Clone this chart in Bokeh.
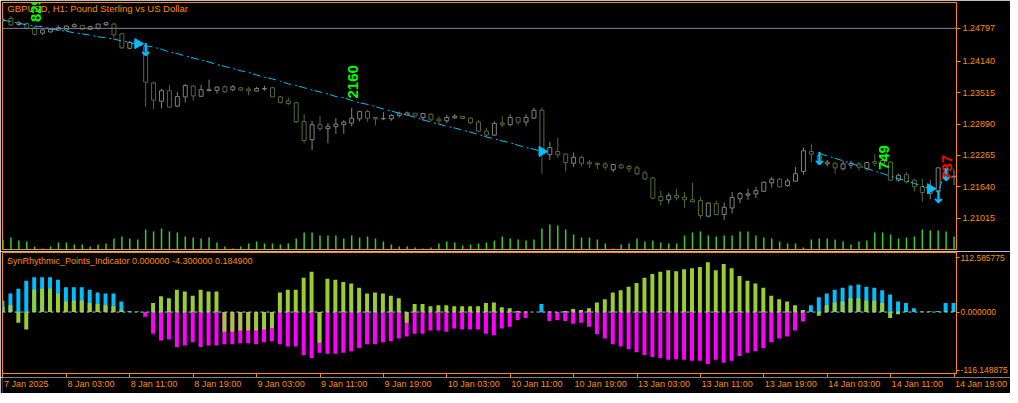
import math
from bokeh.plotting import figure
from bokeh.layouts import column
from bokeh.models import (Range1d, FixedTicker, NumeralTickFormatter, Span, Label,
                          ColumnDataSource, CustomJSTickFormatter)
from bokeh.core.properties import value
from bokeh.embed import file_html
from bokeh.resources import INLINE

NaN = float("nan")

# ---------------- data ----------------
bars = list(range(121))

open_ = [1.24951, 1.24994, 1.24873, 1.24896, 1.24804, 1.24701, 1.24726, 1.24765, 1.24765, 1.24830,
         1.24857, 1.24779, 1.24798, 1.24869, 1.24882, 1.24687, 1.24400, 1.24505, 1.24433, 1.23710,
         1.23345, 1.23554, 1.23248, 1.23431, 1.23646, 1.23443, 1.23554, 1.23560, 1.23632, 1.23574,
         1.23613, 1.23587, 1.23548, 1.23587, 1.23613, 1.23431, 1.23353, 1.23314, 1.22943, 1.22578,
         1.22877, 1.22798, 1.22837, 1.22877, 1.22910, 1.22994, 1.23138, 1.23021, 1.22994, 1.22994,
         1.23060, 1.23072, 1.23105, 1.23021, 1.23086, 1.22988, 1.22955, 1.23013, 1.23041, 1.23007,
         1.22929, 1.22748, 1.22670, 1.22910, 1.22877, 1.23021, 1.22929, 1.23007, 1.23164, 1.22279,
         1.22343, 1.22291, 1.22109, 1.22226, 1.22129, 1.22109, 1.22095, 1.21978, 1.22070, 1.22045,
         1.22017, 1.21914, 1.21816, 1.21445, 1.21381, 1.21465, 1.21431, 1.21381, 1.21367, 1.21054,
         1.21302, 1.21088, 1.21217, 1.21400, 1.21470, 1.21498, 1.21549, 1.21718, 1.21791, 1.21666,
         1.21752, 1.21947, 1.22343, 1.22265, 1.22095, 1.22109, 1.21998, 1.22070, 1.22095, 1.22006,
         1.22142, 1.22095, 1.22129, 1.21771, 1.21881, 1.21771, 1.21640, 1.21509, 1.21543, 1.21998,
         1.21836]
high = [1.24999, 1.25039, 1.24947, 1.24912, 1.24824, 1.24775, 1.24798, 1.24857, 1.24853, 1.24896,
        1.24863, 1.24849, 1.24888, 1.24927, 1.24908, 1.24701, 1.24544, 1.24521, 1.24472, 1.23736,
        1.23593, 1.23671, 1.23529, 1.23685, 1.23671, 1.23671, 1.23775, 1.23638, 1.23666, 1.23666,
        1.23627, 1.23632, 1.23632, 1.23652, 1.23632, 1.23447, 1.23423, 1.23334, 1.23086, 1.22955,
        1.23052, 1.22910, 1.23007, 1.22968, 1.23216, 1.23158, 1.23169, 1.23031, 1.23125, 1.23086,
        1.23138, 1.23138, 1.23111, 1.23105, 1.23105, 1.23041, 1.23072, 1.23086, 1.23046, 1.23021,
        1.22968, 1.22812, 1.22943, 1.23041, 1.23086, 1.23033, 1.23086, 1.23216, 1.23216, 1.22539,
        1.22617, 1.22304, 1.22324, 1.22259, 1.22173, 1.22119, 1.22134, 1.22089, 1.22109, 1.22084,
        1.22064, 1.21966, 1.21836, 1.21562, 1.21523, 1.21601, 1.21537, 1.21718, 1.21445, 1.21328,
        1.21367, 1.21328, 1.21537, 1.21537, 1.21601, 1.21640, 1.21738, 1.21836, 1.21822, 1.21802,
        1.22031, 1.22421, 1.22500, 1.22324, 1.22173, 1.22129, 1.22162, 1.22162, 1.22134, 1.22134,
        1.22291, 1.22207, 1.22148, 1.21900, 1.21933, 1.21802, 1.21802, 1.21771, 1.22031, 1.22089,
        1.21978]
low = [1.24921, 1.24843, 1.24843, 1.24779, 1.24667, 1.24662, 1.24712, 1.24755, 1.24755, 1.24824,
       1.24771, 1.24765, 1.24765, 1.24843, 1.24609, 1.24388, 1.24374, 1.24443, 1.23228, 1.23189,
       1.23203, 1.23216, 1.23228, 1.23320, 1.23359, 1.23431, 1.23541, 1.23496, 1.23515, 1.23541,
       1.23554, 1.23462, 1.23541, 1.23554, 1.23423, 1.23300, 1.23267, 1.22910, 1.22506, 1.22369,
       1.22754, 1.22506, 1.22695, 1.22695, 1.22845, 1.22943, 1.22943, 1.22865, 1.22968, 1.22955,
       1.23021, 1.23060, 1.23046, 1.22955, 1.22943, 1.22910, 1.22910, 1.22994, 1.22994, 1.22890,
       1.22734, 1.22631, 1.22650, 1.22826, 1.22845, 1.22877, 1.22845, 1.22994, 1.21900, 1.22173,
       1.22213, 1.21947, 1.22031, 1.22045, 1.22017, 1.21992, 1.21978, 1.21933, 1.21992, 1.21933,
       1.21869, 1.21771, 1.21392, 1.21263, 1.21302, 1.21367, 1.21217, 1.21332, 1.21002, 1.21029,
       1.21068, 1.20976, 1.21107, 1.21314, 1.21381, 1.21412, 1.21543, 1.21627, 1.21627, 1.21640,
       1.21738, 1.21881, 1.22129, 1.22109, 1.22045, 1.21900, 1.21967, 1.21998, 1.21967, 1.21967,
       1.22045, 1.22070, 1.21757, 1.21738, 1.21705, 1.21543, 1.21347, 1.21392, 1.21509, 1.21777,
       1.21674]
close = [1.24970, 1.24863, 1.24908, 1.24798, 1.24677, 1.24765, 1.24779, 1.24810, 1.24843, 1.24869,
         1.24779, 1.24830, 1.24882, 1.24908, 1.24667, 1.24408, 1.24517, 1.24458, 1.23724, 1.23365,
         1.23554, 1.23228, 1.23437, 1.23658, 1.23451, 1.23574, 1.23574, 1.23627, 1.23529, 1.23632,
         1.23568, 1.23554, 1.23599, 1.23599, 1.23431, 1.23320, 1.23300, 1.22935, 1.22564, 1.22877,
         1.22798, 1.22845, 1.22890, 1.22929, 1.23007, 1.23138, 1.23007, 1.22994, 1.23002, 1.23060,
         1.23105, 1.23111, 1.23052, 1.23099, 1.22974, 1.22955, 1.23021, 1.23046, 1.23002, 1.22916,
         1.22748, 1.22670, 1.22904, 1.22877, 1.23021, 1.22929, 1.23021, 1.23164, 1.22324, 1.22421,
         1.22279, 1.22123, 1.22226, 1.22109, 1.22095, 1.22084, 1.22031, 1.22084, 1.22017, 1.21998,
         1.21900, 1.21797, 1.21412, 1.21367, 1.21470, 1.21420, 1.21381, 1.21341, 1.21068, 1.21314,
         1.21088, 1.21230, 1.21425, 1.21504, 1.21498, 1.21562, 1.21732, 1.21791, 1.21640, 1.21757,
         1.21900, 1.22357, 1.22291, 1.22168, 1.22129, 1.22017, 1.22095, 1.22109, 1.22031, 1.22123,
         1.22109, 1.22162, 1.21771, 1.21869, 1.21738, 1.21640, 1.21523, 1.21576, 1.22017, 1.21836,
         1.21849]
tick_volume = [2000, 2400, 1800, 1600, 600, 200, 600, 1400, 1400, 1000,
               1000, 600, 1000, 1200, 2200, 2600, 2200, 2000, 4000, 3600,
               4200, 3600, 3400, 2600, 2400, 2200, 2400, 1400, 600, 200,
               600, 1200, 1600, 1200, 1200, 1000, 1200, 2200, 3400, 3400,
               2800, 2800, 2800, 2200, 2800, 2400, 2600, 2200, 1600, 1000,
               600, 600, 400, 200, 400, 1200, 1600, 1400, 800, 1000,
               1200, 1400, 1800, 2600, 2200, 2000, 1800, 2000, 4200, 5000,
               4800, 4000, 3000, 2400, 2400, 2000, 1200, 200, 1000, 1200,
               2200, 1600, 1800, 1400, 1200, 1200, 2800, 3400, 3600, 2800,
               2600, 2800, 2800, 3600, 3600, 2800, 2400, 2200, 1600, 1200,
               1200, 400, 2000, 2200, 2200, 2000, 1600, 1000, 1600, 1800,
               3400, 3400, 3000, 2200, 2400, 2600, 4000, 3800, 3800, 3600,
               2600]

# dash-dot signal line (gaps where the indicator draws nothing)
signal_line = [1.24960, 1.24931, 1.24902, 1.24863, 1.24843, 1.24830, 1.24785, 1.24759, 1.24740, 1.24707,
               1.24687, 1.24662, 1.24628, 1.24609, 1.24583, 1.24544, 1.24517, 1.24472, 1.24453, 1.24423,
               1.24380, 1.24322, 1.24296, 1.24244, 1.24205, 1.24166, 1.24126, 1.24076, 1.24037, 1.23998,
               1.23951, 1.23919, 1.23867, 1.23822, 1.23789, 1.23744, 1.23691, 1.23658, 1.23613, 1.23568,
               1.23529, 1.23490, 1.23437, 1.23412, 1.23359, 1.23314, 1.23281, 1.23236, 1.23189, 1.23150,
               1.23105, 1.23072, 1.23021, 1.22974, 1.22929, 1.22890, 1.22845, 1.22812, 1.22767, 1.22728,
               1.22681, 1.22631, 1.22597, 1.22552, 1.22519, 1.22466, 1.22421, 1.22388, 1.22343] \
    + [NaN] * 34 + \
              [1.22304, 1.22255, 1.22207, 1.22158, 1.22109, 1.22056, 1.22002, 1.21953, 1.21904, 1.21849,
               1.21800, 1.21757, 1.21705, 1.21650, 1.21601, 1.21543, 1.21992, 1.21992]

right_arrow_bar = [17, 68, 117]
right_arrow_price = [1.24492, 1.22343, 1.21601]
down_arrow_bar = [18, 103, 118, 119]
down_arrow_price = [1.24374, 1.22207, 1.21445, 1.21875]

signal_bar = [4, 44, 111, 119]
signal_price = [1.24921, 1.23398, 1.21972, 1.21777]
signal_text = ["829", "2160", "749", "737"]
signal_color = ["#00FF00", "#00FF00", "#00FF00", "#FF0000"]

hist_blue = [22, 35, 44, 59, 66, 66, 66, 61, 47, 47, 47, 42, 37, 35, 35, 20, 2, 0, 0, 0,
             0, 0, 0, 0, 0, 0, 0, 0, 0, 0, 0, 0, 0, 0, 0, 0, 0, 0, 0, 0,
             0, 0, 0, 0, 0, 0, 0, 0, 0, 0, 0, 0, 0, 0, 0, 0, 0, 0, 0, 0,
             0, 0, 0, 0, 0, 0, 0, 0, 15, 0, 0, 0, 0, 0, 0, 0, 0, 0, 0, 0,
             0, 0, 0, 0, 0, 0, 0, 0, 0, 0, 0, 0, 0, 0, 0, 0, 0, 0, 0, 0,
             0, 0, 13, 28, 35, 42, 46, 50, 52, 48, 46, 41, 33, 20, 17, 7, 0.5, 0.5, 2, 17,
             17]
hist_green = [10, 13, -20, -33, 42, 44, 44, 35, 20, 22, 22, 17, 15, 13, 11, 4, 0, 1, 0, 17,
              30, 26, 42, 39, 31, 42, 39, 39, -37, -37, -35, -35, -35, -33, -30, 37, 42, 42, 65, 76,
              -58, 63, 61, 57, 54, 46, 35, 37, 35, 31, 26, -20, 15, 15, 11, 13, 13, 11, 11, 11,
              11, 17, 18, 9, 7, 2, 1, 0, 0, 1, 0, 2, 6, 4, 7, 18, 24, 37, 41, 48,
              55, 65, 72, 76, 79, 77, 81, 83, 85, 94, 79, 91, 83, 68, 59, 54, 46, 31, 24, 20,
              13, 4, 0, -7, 13, 18, 20, 26, 26, 22, 22, 17, -11, -4, 1, 0, 1, 1, 0, 1,
              0]
hist_magenta = [0, 0, 0, 0, 0, 0, 0, 0, -1, 0, -1, 0, 0, 0, -1, 0, 0, 0, -9, -41,
                -54, -52, -66, -63, -57, -66, -63, -63, -61, -61, -59, -59, -61, -57, -55, -61, -65, -65, -81, -87,
                -77, -79, -79, -77, -74, -68, -61, -61, -57, -55, -50, -46, -41, -41, -35, -35, -37, -31, -33, -33,
                -33, -41, -44, -31, -28, -15, -11, 0, -1, -17, -15, -17, -22, -20, -28, -42, -50, -61, -65, -70,
                -76, -81, -85, -87, -90, -89, -90, -92, -92, -98, -90, -96, -92, -83, -77, -74, -68, -57, -50, -46,
                -35, -18, 0, 0, -1, 0, 0, -1, 0, 0, -1, 0, 0, 0, 0, 0, 0, 0, 0, 0,
                0]

price_ticks = [1.21015, 1.21640, 1.22265, 1.22890, 1.23515, 1.24140]
hline_price = 1.24797
sub_max, sub_min = 112.585775, -116.148875
sub_axis_labels = ["112.585775", "0.000000", "-116.148875"]

time_tick_bars = [0, 8, 16, 24, 32, 40, 48, 56, 64, 72, 80, 88, 96, 104, 112, 120]
time_tick_labels = ["7 Jan 2025", "8 Jan 03:00", "8 Jan 11:00", "8 Jan 19:00", "9 Jan 03:00",
                    "9 Jan 11:00", "9 Jan 19:00", "10 Jan 03:00", "10 Jan 11:00", "10 Jan 19:00",
                    "13 Jan 03:00", "13 Jan 11:00", "13 Jan 19:00", "14 Jan 03:00", "14 Jan 11:00",
                    "14 Jan 19:00"]

title_text = "GBPUSD, H1:  Pound Sterling vs US Dollar"
sub_title_text = "SynRhythmic_Points_Indicator 0.000000 -4.300000 0.184900"

# ---------------- styling / layout ----------------
ORANGE = "#FF8C00"
BULL = "#808080"
BEAR = "#556B2F"
VOLC = "#32CD32"
BLUE = "#00BFFF"
GREEN = "#9ACD32"
MAGENTA = "#FF00FF"
FONT = "Liberation Sans"

TOTAL_W = 1010
BL, BR = 2, 54
FW = TOTAL_W - BL - BR
x0 = -1.0 / 16
x1 = 120.3125
xr = Range1d(x0, x1)
pxb = FW / (x1 - x0)

MAIN_FH = 247
SUB_FH = 121
STRIP_H = 16
price_lo, price_hi = 1.20390, 1.25312
sub_upp = (sub_max - sub_min) / SUB_FH


def style_fig(p):
    p.background_fill_color = "black"
    p.border_fill_color = "black"
    p.outline_line_color = ORANGE
    p.outline_line_width = 1
    p.grid.visible = False


# ---------------- main window ----------------
p1 = figure(frame_width=FW, frame_height=MAIN_FH, x_range=xr, y_range=Range1d(price_lo, price_hi),
            x_axis_location=None, y_axis_location="right", toolbar_location=None,
            output_backend="svg", min_border_left=BL, min_border_right=BR,
            min_border_top=2, min_border_bottom=2)
style_fig(p1)

ax = p1.yaxis[0]
ax.ticker = FixedTicker(ticks=price_ticks + [hline_price])
ax.formatter = NumeralTickFormatter(format="0.00000")
ax.axis_line_color = ORANGE
ax.major_tick_line_color = ORANGE
ax.major_tick_out = 4
ax.major_tick_in = 0
ax.minor_tick_line_color = None
ax.major_label_text_color = ORANGE
ax.major_label_text_font = FONT
ax.major_label_text_font_size = "9px"
ax.major_label_standoff = 2

vmax = max(tick_volume)
p1.extra_y_ranges = {"vol": Range1d(0, vmax * MAIN_FH / 25.0)}
p1.segment(x0=bars, y0=[0] * len(bars), x1=bars, y1=tick_volume, y_range_name="vol",
           line_color=VOLC, line_width=1.5)

p1.add_layout(Span(location=hline_price, dimension="width", line_color="#778899", line_width=1))

colors = [BULL if c >= o else BEAR for o, c in zip(open_, close)]
csrc = ColumnDataSource(dict(
    x=bars, h=high, l=low,
    top=[max(o, c) for o, c in zip(open_, close)],
    bottom=[min(o, c) for o, c in zip(open_, close)],
    left=[b - 0.25 for b in bars], right=[b + 0.25 for b in bars],
    color=colors))
p1.segment(x0="x", y0="h", x1="x", y1="l", line_color="color", line_width=1, source=csrc)
p1.quad(left="left", right="right", top="top", bottom="bottom", fill_color="black",
        line_color="color", line_width=1, source=csrc)

p1.line(bars, signal_line, line_color=BLUE, line_width=1, line_dash="8 4 2 2")

p1.scatter(right_arrow_bar, right_arrow_price, marker="triangle", size=10, angle=-math.pi / 2,
           fill_color=BLUE, line_color=BLUE)
p1.text(down_arrow_bar, down_arrow_price, text=["\u2193"] * len(down_arrow_bar),
        text_color=BLUE, text_font=value("DejaVu Sans"), text_font_style="bold",
        text_font_size="18px", text_align="center", text_baseline="middle")

ssrc = ColumnDataSource(dict(x=signal_bar, y=signal_price, t=signal_text, c=signal_color))
p1.text(x="x", y="y", text="t", text_color="c", angle=math.pi / 2, x_offset=1,
        text_font=value(FONT), text_font_style="bold", text_font_size="15px",
        text_align="left", text_baseline="middle", source=ssrc)

p1.add_layout(Label(x=0.55, y=price_hi - 1.0 / 5120, text=title_text, text_color=ORANGE,
                    text_font=FONT, text_font_size="9.5px", text_align="left",
                    text_baseline="top", level="underlay"))

# ---------------- indicator window ----------------
p2 = figure(frame_width=FW, frame_height=SUB_FH, x_range=xr, y_range=Range1d(sub_min, sub_max),
            x_axis_location="below", y_axis_location="right", toolbar_location=None,
            output_backend="svg", min_border_left=BL, min_border_right=BR,
            min_border_top=1, min_border_bottom=4)
style_fig(p2)

hx = [b - 0.0625 for b in bars]
p2.vbar(x=hx, width=0.5, bottom=0, top=hist_blue, fill_color=BLUE, line_color=None)
p2.vbar(x=hx, width=0.5, bottom=0, top=hist_magenta, fill_color=MAGENTA, line_color=None)
p2.vbar(x=hx, width=0.5, bottom=0, top=hist_green, fill_color=GREEN, line_color=None)
p2.add_layout(Span(location=0, dimension="width", line_color="#7FDFCF", line_width=1,
                   line_dash="3 3"))

xa = p2.xaxis[0]
xa.ticker = FixedTicker(ticks=time_tick_bars)
xa.formatter = CustomJSTickFormatter(code="return ''")
xa.major_label_text_font_size = "0px"
xa.major_label_standoff = 0
xa.axis_line_color = ORANGE
xa.major_tick_line_color = ORANGE
xa.major_tick_out = 4
xa.major_tick_in = 0
xa.minor_tick_line_color = None

ya = p2.yaxis[0]
sub_tick_pos = [103, 0, -110]
ya.ticker = FixedTicker(ticks=sub_tick_pos)
ya.major_label_overrides = dict(zip(sub_tick_pos, sub_axis_labels))
ya.axis_line_color = ORANGE
ya.major_tick_line_color = ORANGE
ya.major_tick_out = 3
ya.major_tick_in = 0
ya.minor_tick_line_color = None
ya.major_label_text_color = ORANGE
ya.major_label_text_font = FONT
ya.major_label_text_font_size = "8.5px"
ya.major_label_standoff = 1

p2.add_layout(Label(x=0.5, y=sub_max - 3 * sub_upp, text=sub_title_text, text_color=ORANGE,
                    text_font=FONT, text_font_size="9px", text_align="left",
                    text_baseline="top", level="underlay"))

# ---------------- time-label strip ----------------
SW = TOTAL_W - BL
p3 = figure(frame_width=SW, frame_height=STRIP_H, x_range=Range1d(x0, x0 + SW / pxb),
            y_range=Range1d(0, STRIP_H), x_axis_location=None, y_axis_location=None,
            toolbar_location=None, output_backend="svg", min_border_left=BL,
            min_border_right=0, min_border_top=0, min_border_bottom=0)
p3.background_fill_color = "black"
p3.border_fill_color = "black"
p3.outline_line_color = None
p3.grid.visible = False
p3.text(x=time_tick_bars, y=[STRIP_H - 1] * len(time_tick_bars), text=time_tick_labels,
        x_offset=1, text_color=ORANGE, text_font=value(FONT), text_font_size="9px",
        text_align="left", text_baseline="top")

layout = column(p1, p2, p3, spacing=0)
open("out.html", "w").write(file_html(layout, INLINE))
